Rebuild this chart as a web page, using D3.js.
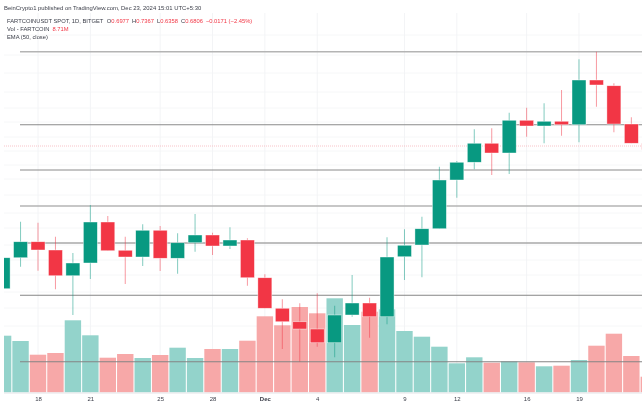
<!DOCTYPE html>
<html>
<head>
<meta charset="utf-8">
<script src="https://cdn.jsdelivr.net/npm/d3@7"></script>
<style>
html, body { margin: 0; padding: 0; background: #fff; overflow: hidden; }
svg { display: block; filter: blur(0.5px); }
text { font-family: "Liberation Sans", Arial, sans-serif; }
</style>
</head>
<body>
<svg id="chart" width="642" height="405"></svg>
<script>
// one entry per day starting Nov 16 2024
var opens = [0.413, 0.537, 0.601, 0.568, 0.465, 0.516, 0.680, 0.567, 0.540, 0.647, 0.535, 0.597, 0.628, 0.584, 0.608, 0.457, 0.335, 0.281, 0.252, 0.197, 0.308, 0.356, 0.301, 0.541, 0.588, 0.653, 0.848, 0.919, 0.995, 0.956, 1.087, 1.064, 1.083, 1.069, 1.248, 1.225, 1.072, 0.995];
var highs = [0.537, 0.681, 0.677, 0.621, 0.556, 0.748, 0.704, 0.621, 0.671, 0.664, 0.635, 0.712, 0.637, 0.659, 0.615, 0.471, 0.371, 0.355, 0.395, 0.345, 0.468, 0.377, 0.619, 0.651, 0.701, 0.901, 0.924, 1.051, 1.055, 1.117, 1.137, 1.155, 1.208, 1.331, 1.361, 1.235, 1.099, 1.010];
var lows = [0.413, 0.501, 0.485, 0.411, 0.308, 0.452, 0.565, 0.432, 0.504, 0.484, 0.473, 0.561, 0.548, 0.572, 0.425, 0.335, 0.172, 0.121, 0.181, 0.139, 0.301, 0.217, 0.271, 0.448, 0.459, 0.653, 0.777, 0.891, 0.868, 0.872, 1.021, 0.995, 1.025, 0.999, 1.141, 1.039, 0.995, 0.950];
var closes = [0.537, 0.601, 0.568, 0.465, 0.516, 0.680, 0.565, 0.540, 0.647, 0.535, 0.597, 0.628, 0.584, 0.608, 0.457, 0.335, 0.281, 0.252, 0.197, 0.308, 0.356, 0.301, 0.540, 0.587, 0.653, 0.848, 0.919, 0.995, 0.956, 1.087, 1.064, 1.083, 1.069, 1.248, 1.228, 1.072, 0.995, 0.970];
var volumes = [56.6, 51.3, 37.6, 39.3, 72.0, 57.0, 34.6, 38.3, 34.3, 37.3, 44.6, 34.3, 43.3, 43.3, 51.6, 76.0, 67.0, 85.3, 79.0, 94.0, 67.3, 80.6, 83.0, 61.3, 55.6, 45.6, 29.0, 35.0, 29.6, 31.0, 30.0, 26.0, 26.6, 32.3, 46.6, 58.6, 36.3, 15.6];

var level_prices = [1.361, 1.069, 0.888, 0.744, 0.596, 0.387, 0.121];
var grid_prices = [1.428, 1.348, 1.276, 1.2, 1.136, 1.08, 1.02, 0.964, 0.908, 0.852, 0.788, 0.716, 0.656, 0.588, 0.528, 0.468, 0.4, 0.336, 0.264];
var last_price = 0.984;

var tick_dates = ['2024-11-18', '2024-11-21', '2024-11-25', '2024-11-28', '2024-12-01', '2024-12-04', '2024-12-09', '2024-12-12', '2024-12-16', '2024-12-19'];
var tick_labels = ['18', '21', '25', '28', 'Dec', '4', '9', '12', '16', '19'];

var published = 'BeinCrypto1 published on TradingView.com, Dec 23, 2024 15:01 UTC+5:30';
var legend_symbol = 'FARTCOINUSDT SPOT, 1D, BITGET';
var legend_ohlc = [['O', '0.6977'], ['H', '0.7367'], ['L', '0.6358'], ['C', '0.6806']];
var legend_change = '\u22120.0171 (\u22122.45%)';

var UP = '#089981', DOWN = '#f23645';
var UP_VOL = '#93d3cb', DOWN_VOL = '#f7a8a8';
var TEXT = '#3a3d48';
var level_colors = ['#b4b4b4', '#8a8a8a', '#8a8a8a', '#b4b4b4', '#a8a8a8', '#858585', '#858585'];
var level_widths = [1.5, 1, 1, 1.5, 1.5, 1, 1];

var parse = d3.utcParse('%Y-%m-%d');
var day = function(i) { return d3.utcDay.offset(parse('2024-11-16'), i); };

var x = d3.scaleUtc().domain([parse('2024-11-16'), parse('2024-12-23')]).range([3.1, 648.8]);
var y = d3.scaleLinear().domain([0, 1.568]).range([392, 0]);
var vol_y = d3.scaleLinear().domain([0, 100]).range([392.3, 292.3]);

var svg = d3.select('#chart');

svg.append('clipPath').attr('id', 'pane')
    .append('rect').attr('x', 4).attr('y', 13).attr('width', 638).attr('height', 380);

svg.append('text').attr('x', 4).attr('y', 10)
    .attr('font-size', 5.9).attr('fill', TEXT).text(published);

var pane = svg.append('g').attr('clip-path', 'url(#pane)');

// faint grid
pane.append('g').selectAll('line').data(grid_prices).enter().append('line')
    .attr('x1', 4).attr('x2', 642)
    .attr('y1', function(d) { return y(d); })
    .attr('y2', function(d) { return y(d); })
    .attr('stroke', '#f6f7f8').attr('stroke-width', 1);

pane.append('g').selectAll('line').data(tick_dates).enter().append('line')
    .attr('x1', function(d) { return x(parse(d)); })
    .attr('x2', function(d) { return x(parse(d)); })
    .attr('y1', 13).attr('y2', 393)
    .attr('stroke', '#f3f4f6').attr('stroke-width', 1);

// volume
pane.append('g').selectAll('rect').data(volumes).enter().append('rect')
    .attr('x', function(d, i) { return x(day(i)) - 8.2; })
    .attr('width', 16.4)
    .attr('y', function(d) { return vol_y(d); })
    .attr('height', function(d) { return vol_y(0) - vol_y(d); })
    .attr('fill', function(d, i) { return closes[i] >= opens[i] ? UP_VOL : DOWN_VOL; });

// price levels
pane.append('g').selectAll('line').data(level_prices).enter().append('line')
    .attr('x1', 20).attr('x2', 642)
    .attr('y1', function(d) { return y(d); })
    .attr('y2', function(d) { return y(d); })
    .attr('stroke', function(d, i) { return level_colors[i]; })
    .attr('stroke-width', function(d, i) { return level_widths[i]; });

pane.append('line')
    .attr('x1', 4).attr('x2', 642)
    .attr('y1', y(last_price)).attr('y2', y(last_price))
    .attr('stroke', '#f6b4ba').attr('stroke-width', 0.8)
    .attr('stroke-dasharray', '1,1');

// candles
var candles = pane.append('g').selectAll('g').data(opens).enter().append('g');

candles.append('line')
    .attr('x1', function(d, i) { return x(day(i)); })
    .attr('x2', function(d, i) { return x(day(i)); })
    .attr('y1', function(d, i) { return y(highs[i]); })
    .attr('y2', function(d, i) { return y(lows[i]); })
    .attr('stroke', function(d, i) { return closes[i] >= opens[i] ? UP : DOWN; })
    .attr('stroke-opacity', 0.5)
    .attr('stroke-width', 1);

candles.append('rect')
    .attr('x', function(d, i) { return x(day(i)) - 7; })
    .attr('width', 14)
    .attr('y', function(d, i) { return y(Math.max(opens[i], closes[i])); })
    .attr('height', function(d, i) { return Math.abs(y(opens[i]) - y(closes[i])); })
    .attr('fill', function(d, i) { return closes[i] >= opens[i] ? UP : DOWN; })
    .attr('stroke', '#fff').attr('stroke-opacity', 0.7).attr('stroke-width', 0.6);

// date axis
var axis = d3.axisBottom(x)
    .tickValues(tick_dates.map(parse))
    .tickSize(0)
    .tickPadding(3.5)
    .tickFormat(function(d, i) { return tick_labels[i]; });

var axis_g = svg.append('g').attr('transform', 'translate(0,393)').call(axis);
axis_g.select('.domain').attr('stroke', '#e3e4e8').attr('d', 'M4,0H642');
axis_g.selectAll('text')
    .style('font-family', '"Liberation Sans", Arial, sans-serif')
    .attr('font-size', 6)
    .attr('fill', TEXT)
    .attr('font-weight', function(d, i) { return tick_labels[i] === 'Dec' ? 'bold' : 'normal'; });

// legend
var leg = svg.append('text').attr('x', 7).attr('y', 23).attr('font-size', 5.8).attr('fill', TEXT);
leg.append('tspan').text(legend_symbol);
legend_ohlc.forEach(function(p, i) {
    leg.append('tspan').attr('dx', i === 0 ? 3.5 : 3).text(p[0]);
    leg.append('tspan').attr('fill', DOWN).text(p[1]);
});
leg.append('tspan').attr('dx', 3).attr('fill', DOWN).text(legend_change);

var vol_leg = svg.append('text').attr('x', 7).attr('y', 31).attr('font-size', 5.8).attr('fill', TEXT);
vol_leg.append('tspan').text('Vol - FARTCOIN');
vol_leg.append('tspan').attr('dx', 3).attr('fill', DOWN).text('8.71M');

svg.append('text').attr('x', 7).attr('y', 39).attr('font-size', 5.8).attr('fill', TEXT)
    .text('EMA (50, close)');
</script>
</body>
</html>
